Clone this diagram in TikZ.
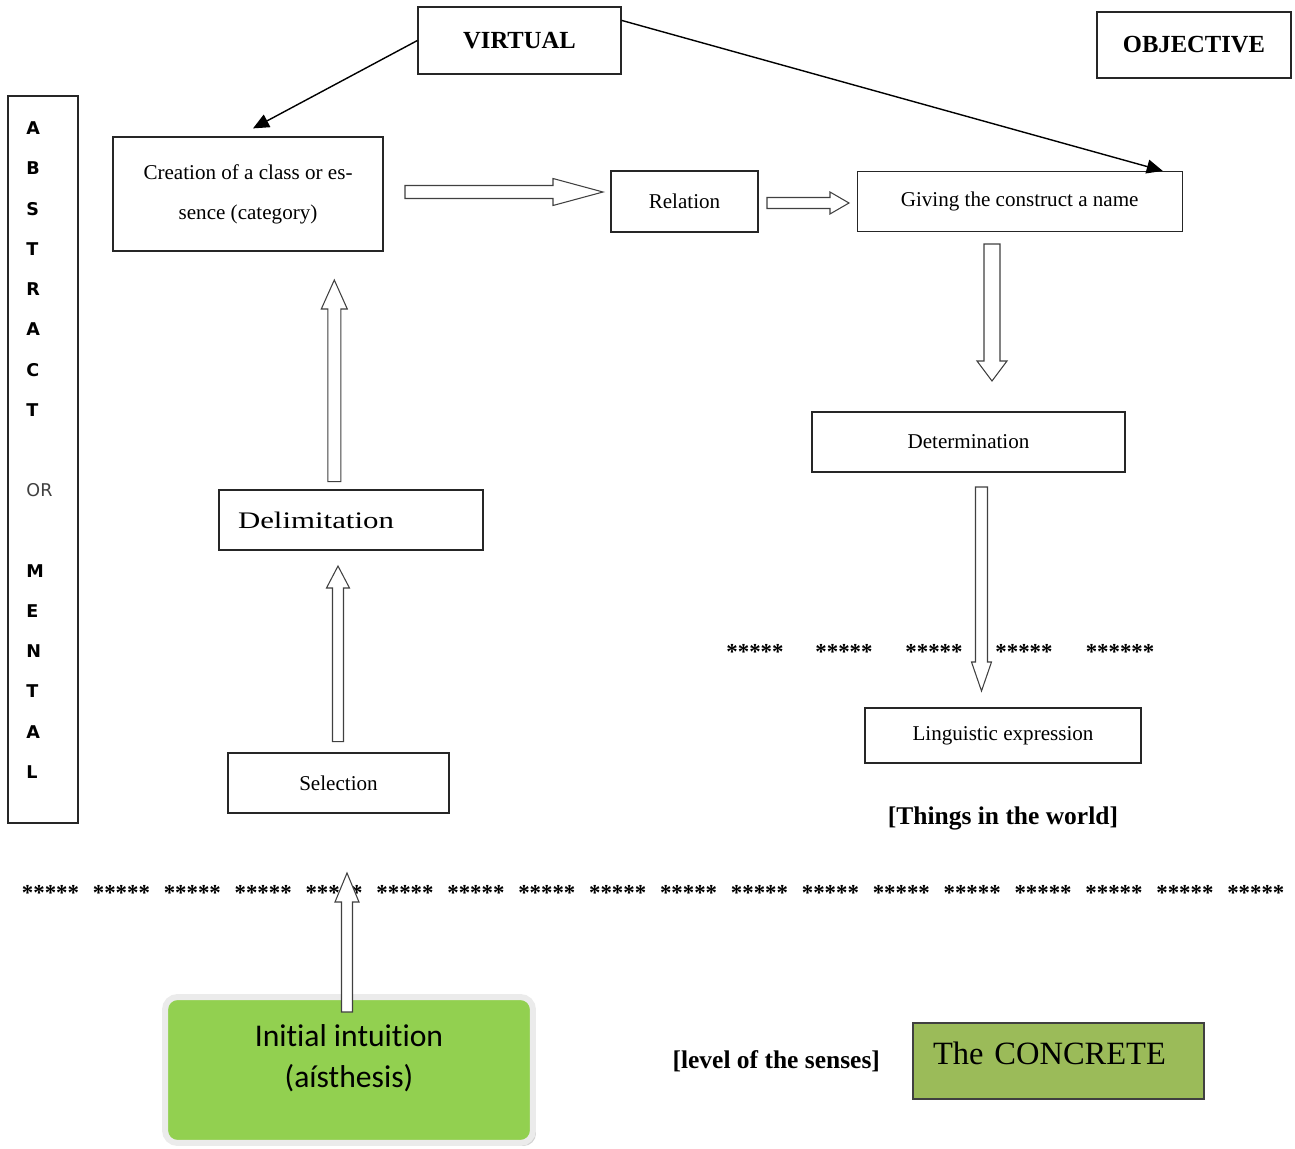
\documentclass[tikz,border=0pt]{standalone}
\usepackage{fontspec}
\setmainfont{Liberation Serif}
\newfontfamily\lettersfont{DejaVu Sans}
\newfontfamily\calibrifont[Ligatures=NoCommon]{Carlito}
\newfontfamily\widefont[FakeStretch=1.3]{Liberation Serif}
\usepackage{tikz}
\usetikzlibrary{positioning}
\usetikzlibrary{arrows.meta}
\usetikzlibrary{calc}
\usetikzlibrary{shadows}

\definecolor{initgreen}{HTML}{92D050}
\definecolor{concretegreen}{HTML}{9BBB59}

% hollow block arrow: from, to, shaft half width, head half width, head length
\newcommand{\hollowarrow}[5]{%
  \coordinate (hb) at ($(#2)!#5!(#1)$);
  \draw[hollow] ($(#1)!#3!90:(#2)$) -- ($(hb)!#3!-90:(#1)$) -- ($(hb)!#4!-90:(#1)$)
        -- (#2) -- ($(hb)!#4!90:(#1)$) -- ($(hb)!#3!90:(#1)$) -- ($(#1)!#3!-90:(#2)$)
        -- cycle;
}

\begin{document}
\begin{tikzpicture}[ x = 0.02cm, y = -0.02cm
                   , font = \fontsize{12}{14}\selectfont
                   , >={Triangle[width=0.28cm, length=0.32cm]}
                   , box/.style = { rectangle
                                  , draw = black!85
                                  , line width = 0.7pt
                                  , align = center
                                  , inner sep = 0pt }
                   ]
  \useasboundingbox (0,0) rectangle (1295,1149);

  %%
  %% Nodes
  %%
  \tikzset{ head/.style={box, font=\fontsize{14}{16}\selectfont\bfseries}
          , note/.style={inner sep=0pt, font=\fontsize{14.5}{16}\selectfont\bfseries}
          , stars/.style={inner sep=0pt, font=\fontsize{13}{14}\selectfont\bfseries}
          , initbox/.style={ rectangle, rounded corners=0.25cm, fill=initgreen
                           , draw=black!8, line width=0.12cm, align=center
                           , font=\calibrifont\fontsize{18}{22.8}\selectfont
                           , drop shadow={shadow xshift=0.06cm, shadow yshift=-0.06cm, fill=black!35}}
          , hollow/.style={draw=black!75, line width=0.6pt, fill=white, line join=miter}
          }

  \node (virtual) [head, minimum width=4.06cm, minimum height=1.34cm] at (519.5,40.5) {VIRTUAL};
  \node (objective) [head, minimum width=3.88cm, minimum height=1.32cm] at (1194,45) {OBJECTIVE};
  \node (abstract) [box, minimum width=1.4cm, minimum height=14.54cm] at (43,459.5)
        {\lettersfont\fontsize{10}{22.9}\selectfont
         \begin{tabular}{@{}l@{\hspace{0.14cm}}}
         \textbf{A}\\ \textbf{B}\\ \textbf{S}\\ \textbf{T}\\ \textbf{R}\\ \textbf{A}\\ \textbf{C}\\ \textbf{T}\\
         \\ {\color{black!75}OR}\\ \\
         \textbf{M}\\ \textbf{E}\\ \textbf{N}\\ \textbf{T}\\ \textbf{A}\\ \textbf{L}\\[0.44cm]
         \end{tabular}};
  \node (creation) [box, minimum width=5.4cm, minimum height=2.28cm,
                    font=\fontsize{12}{22.8}\selectfont] at (248,194)
        {Creation of a class or es-\\sence (category)};
  \node (relation) [box, minimum width=2.94cm, minimum height=1.22cm] at (684.5,201.5) {Relation};
  \node (giving) [box, minimum width=6.5cm, minimum height=1.2cm, right=1.96cm of relation]
        {Giving the construct a name};
  \node (determination) [box, minimum width=6.26cm, minimum height=1.2cm] at (968.5,442) {Determination};
  \node (delimitation) [box, minimum width=5.28cm, minimum height=1.2cm, text width=4.52cm,
                        align=left, font=\widefont\fontsize{13.5}{15}\selectfont] at (351,520)
        {Delimitation};
  \node (selection) [box, minimum width=4.42cm, minimum height=1.2cm] at (338.5,783) {Selection};
  \node (linguistic) [box, minimum width=5.52cm, minimum height=1.1cm] at (1003,735.5) {Linguistic expression};
  \node (things) [note, below=0.86cm of linguistic] {[Things in the world]};
  \node (initial) [initbox, minimum width=7.36cm, minimum height=2.92cm] at (349,1070)
        {\begin{tabular}{c}Init\kern0pt ial intuit\kern0pt ion\\(aísthesis)\\[0.44cm]\end{tabular}};
  \node (concrete) [box, fill=concretegreen, draw=black!75, line width=0.9pt,
                    minimum width=5.82cm, minimum height=1.52cm, text width=5.02cm, align=left,
                    font=\fontsize{18.5}{20}\selectfont] at (1058.5,1061)
        {\begin{tabular}{@{}l@{}}The CONCRETE\\[0.16cm]\end{tabular}};
  \node (senses) [note, font=\fontsize{14.5}{16}\selectfont\bfseries, left=0.64cm of concrete]
        {[level of the senses]};

  % rows of stars
  \foreach \i in {0,...,17}
    \node (low\i) [stars] at ({50.5+70.9*\i},893) {*****};
  \foreach \x/\s [count=\i] in {755/*****, 844/*****, 934/*****, 1024/*****, 1120/******}
    \node (high\i) [stars] at (\x,652) {\s};

  %%
  %% Relationship between nodes (arrows)
  %%
  \draw[line width=0.8pt, ->] (virtual.west) -- ($(creation.north)+(5,-8)$);
  \draw[line width=0.8pt, ->] ($(virtual.north east)+(0,14)$) -- ($(giving.north east)+(-20,0)$);

  % Hollow arrows.
  \coordinate (crS) at (405,192);     \coordinate (crE) at (603,192);
  \coordinate (rgS) at (767,203);     \coordinate (rgE) at (849,203);
  \coordinate (gdS) at (992,244);     \coordinate (gdE) at (992,381);
  \coordinate (dlS) at (981.5,487);   \coordinate (dlE) at (981.5,691);
  \coordinate (dcS) at (334.3,481.7); \coordinate (dcE) at (334.3,280);
  \coordinate (sdS) at (338,741.7);   \coordinate (sdE) at (338,566);
  \coordinate (isS) at (347,1012);    \coordinate (isE) at (347,873);
  \hollowarrow{crS}{crE}{0.13cm}{0.27cm}{1.0cm}
  \hollowarrow{rgS}{rgE}{0.11cm}{0.22cm}{0.38cm}
  \hollowarrow{gdS}{gdE}{0.16cm}{0.30cm}{0.40cm}
  \hollowarrow{dlS}{dlE}{0.12cm}{0.20cm}{0.58cm}
  \hollowarrow{dcS}{dcE}{0.13cm}{0.26cm}{0.58cm}
  \hollowarrow{sdS}{sdE}{0.11cm}{0.23cm}{0.44cm}
  \hollowarrow{isS}{isE}{0.11cm}{0.24cm}{0.58cm}
\end{tikzpicture}
\end{document}
